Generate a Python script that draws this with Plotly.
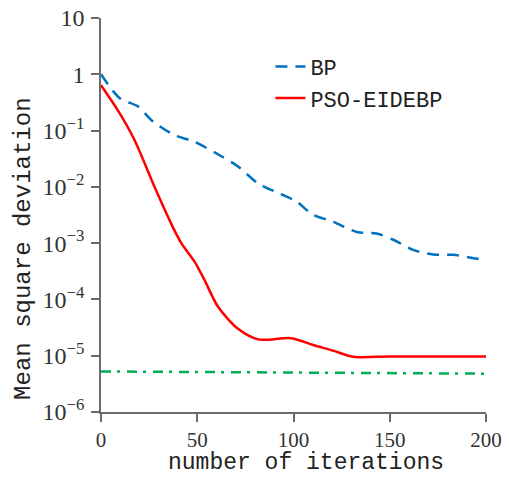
import plotly.graph_objects as go

# BP (blue dashed)
bp_x = [0, 9.6, 19.1, 27, 38.2, 48.6, 62.5, 71.2, 81.6, 92, 101.5, 110, 120.6, 132.8, 143.2, 151.8, 162.2, 172.6, 183, 193.4, 200]
bp_y = [1.0, 0.38, 0.27, 0.145, 0.083, 0.063, 0.035, 0.023, 0.0115, 0.0078, 0.0055, 0.0032, 0.0024, 0.00158, 0.00148, 0.00115, 0.00076, 0.00063, 0.00062, 0.00054, 0.0005]

# PSO-EIDEBP (red solid)
pso_x = [0, 8.7, 17.4, 27.8, 36.5, 41.7, 48.6, 53.8, 60.8, 71.2, 81.6, 98.9, 110.2, 120.6, 131, 150, 200]
pso_y = [0.64, 0.23, 0.068, 0.01, 0.0022, 0.001, 0.00047, 0.00022, 7.4e-5, 3.0e-5, 1.95e-5, 2.05e-5, 1.55e-5, 1.23e-5, 9.6e-6, 9.7e-6, 9.7e-6]

# Reference level (green dash-dot)
ref_x = [0, 200]
ref_y = [5.25e-6, 4.8e-6]

y_tickvals = [10, 1, 0.1, 0.01, 0.001, 1e-4, 1e-5, 1e-6]
y_ticktext = ["10", "1", "10<sup>−1</sup>", "10<sup>−2</sup>", "10<sup>−3</sup>",
              "10<sup>−4</sup>", "10<sup>−5</sup>", "10<sup>−6</sup>"]
x_tickvals = [0, 50, 100, 150, 200]
x_title = "number of iterations"
y_title = "Mean square deviation"

fig = go.Figure()
fig.add_trace(go.Scatter(x=bp_x, y=bp_y, mode="lines", name="BP",
                         line=dict(color="#0070C0", width=2.5, dash="12px,8px", shape="spline", smoothing=0.8)))
fig.add_trace(go.Scatter(x=pso_x, y=pso_y, mode="lines", name="PSO-EIDEBP",
                         line=dict(color="#FF0000", width=2.5, shape="spline", smoothing=0.8)))
fig.add_trace(go.Scatter(x=ref_x, y=ref_y, mode="lines", showlegend=False,
                         line=dict(color="#00B050", width=2.5, dash="10px,6px,3px,7px")))

axis_color = "#6b6b6b"
title_font = dict(family="Liberation Mono", size=23, color="#222222")
fig.update_layout(
    width=509, height=477,
    margin=dict(l=101, r=23, t=18, b=65, autoexpand=False),
    plot_bgcolor="white", paper_bgcolor="white",
    showlegend=True,
    legend=dict(x=0.44, y=0.93, xanchor="left", yanchor="top",
                font=dict(family="Liberation Mono", size=22, color="#222222"),
                bgcolor="rgba(0,0,0,0)", itemwidth=30),
    xaxis=dict(range=[0, 200], tickvals=x_tickvals, showgrid=False, zeroline=False,
               showline=True, linecolor=axis_color, linewidth=1.5,
               ticks="outside", ticklen=8, tickcolor=axis_color, tickwidth=1.5,
               tickfont=dict(family="Liberation Serif", size=21, color="#333333")),
    yaxis=dict(type="log", range=[-6, 1], tickvals=y_tickvals, ticktext=y_ticktext,
               showgrid=False, zeroline=False,
               showline=True, linecolor=axis_color, linewidth=1.5,
               ticks="outside", ticklen=8, tickcolor=axis_color, tickwidth=1.5,
               ticklabelstandoff=2,
               tickfont=dict(family="Liberation Serif", size=24, color="#333333")),
    annotations=[
        dict(text=x_title, xref="paper", yref="paper", x=0.533, y=-0.13,
             xanchor="center", yanchor="middle", showarrow=False, font=title_font),
        dict(text=y_title, xref="paper", yref="paper", x=-0.2, y=0.414,
             xanchor="center", yanchor="middle", showarrow=False, textangle=-90,
             font=dict(family="Liberation Mono", size=24, color="#222222")),
    ],
)

fig.write_html("out.html")
